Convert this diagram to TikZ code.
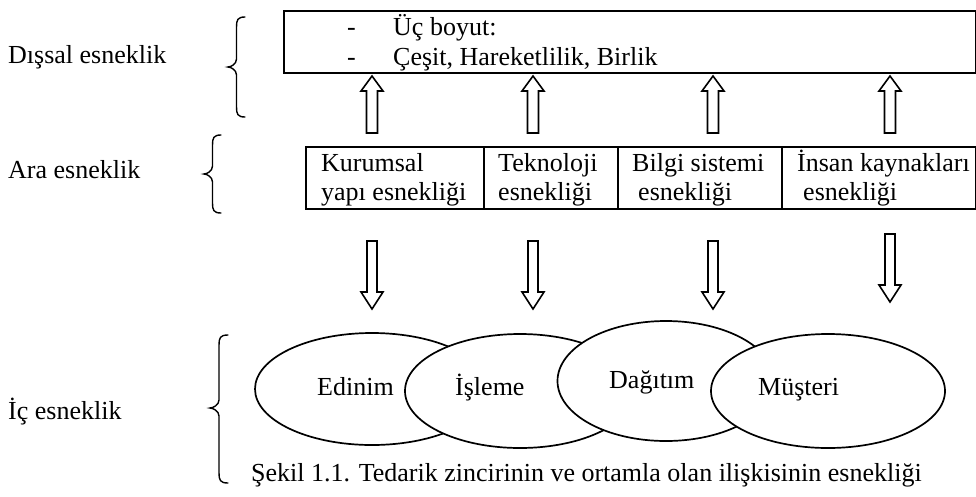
\documentclass[tikz,border=0pt]{standalone}
\usepackage{fontspec}
\setmainfont{Liberation Serif}
\usetikzlibrary{shapes.geometric}
\begin{document}
\begin{tikzpicture}[x=1pt,y=-1pt,
  txt/.style={anchor=base west, inner sep=0pt, font=\fontsize{26}{30}\selectfont},
  frame/.style={draw, line width=2pt, inner sep=0pt, anchor=north west, minimum height=62pt},
  oval/.style={draw, line width=1.7pt, fill=white, ellipse, inner sep=0pt},
  bracepath/.style={line width=1.4pt, line cap=round},
  barrow/.style={line width=1.6pt, line join=miter},
  uparr/.pic={\draw[barrow] (-5.5,0) -- (-5.5,-42) -- (-11,-42) -- (0,-57) -- (11,-42) -- (5.5,-42) -- (5.5,0) -- cycle;},
  dnarr/.pic={\draw[barrow] (-5,0) -- (-5,51) -- (-11,51) -- (0,68) -- (11,51) -- (5,51) -- (5,0) -- cycle;}
]
\useasboundingbox[fill=white] (0,0) rectangle (976,496);

% left labels
\node[txt] (dis) at (8,63) {Dışsal esneklik};
\node[txt] (ara) at (8,178) {Ara esneklik};
\node[txt] (ic) at (8,419) {İç esneklik};

% braces
\draw[bracepath] (245,17) .. controls (237.5,17) and (236.5,20) .. (236.5,27) -- (236.5,59)
  .. controls (236.5,64) and (231,67) .. (228,67) .. controls (231,67) and (236.5,70) .. (236.5,75)
  -- (236.5,107) .. controls (236.5,114) and (237.5,117) .. (245,117);
\draw[bracepath] (221,135) .. controls (213.5,135) and (212.5,138) .. (212.5,145) -- (212.5,166)
  .. controls (212.5,171) and (207,174) .. (204,174) .. controls (207,174) and (212.5,177) .. (212.5,182)
  -- (212.5,203) .. controls (212.5,210) and (213.5,213) .. (221,213);
\draw[bracepath] (228,335) .. controls (220,335) and (219,338) .. (219,345) -- (219,400)
  .. controls (219,405) and (213,408) .. (210,408) .. controls (213,408) and (219,411) .. (219,416)
  -- (219,473) .. controls (219,480) and (220,483) .. (228,483);

% top box
\node[frame, minimum width=692pt] (outer) at (283,10) {};
\node[txt] (d1) at (347,35) {-};
\node[txt] (t1) at (393,35) {Üç boyut:};
\node[txt] (d2) at (347,65) {-};
\node[txt] (t2) at (393,65) {Çeşit, Hareketlilik, Birlik};

% up arrows
\foreach \x in {372,533,713,890} \pic at (\x,133) {uparr};

% middle cells
\node[frame, minimum width=178pt] (c1) at (305,146) {};
\node[frame, minimum width=134pt] (c2) at (483,146) {};
\node[frame, minimum width=164pt] (c3) at (617,146) {};
\node[frame, minimum width=194pt] (c4) at (781,146) {};
\node[txt] (k1) at (321,171) {Kurumsal};
\node[txt] (k2) at (321,200) {yapı esnekliği};
\node[txt] (t3) at (498,171) {Teknoloji};
\node[txt] (t4) at (498,200) {esnekliği};
\node[txt] (b1) at (632,171) {Bilgi sistemi};
\node[txt] (b2) at (638,200) {esnekliği};
\node[txt] (i1) at (797,171) {İnsan kaynakları};
\node[txt] (i2) at (803,200) {esnekliği};

% down arrows
\foreach \x in {372,533,713} \pic at (\x,241) {dnarr};
\pic at (890,234) {dnarr};

% ellipses
\node[oval, minimum width=234pt, minimum height=112pt] (e1) at (372,389) {};
\node[oval, minimum width=230pt, minimum height=114pt] (e2) at (520,391) {};
\node[oval, minimum width=217pt, minimum height=120pt] (e3) at (666,381) {};
\node[oval, minimum width=234pt, minimum height=114pt] (e4) at (828,391) {};
\node[txt] (l1) at (317,395) {Edinim};
\node[txt] (l2) at (455,395) {İşleme};
\node[txt] (l3) at (609,388) {Dağıtım};
\node[txt] (l4) at (758,395) {Müşteri};

% caption
\node[txt] (cap) at (251,481) {Şekil 1.1. Tedarik zincirinin ve ortamla olan ilişkisinin esnekliği};
\end{tikzpicture}
\end{document}
